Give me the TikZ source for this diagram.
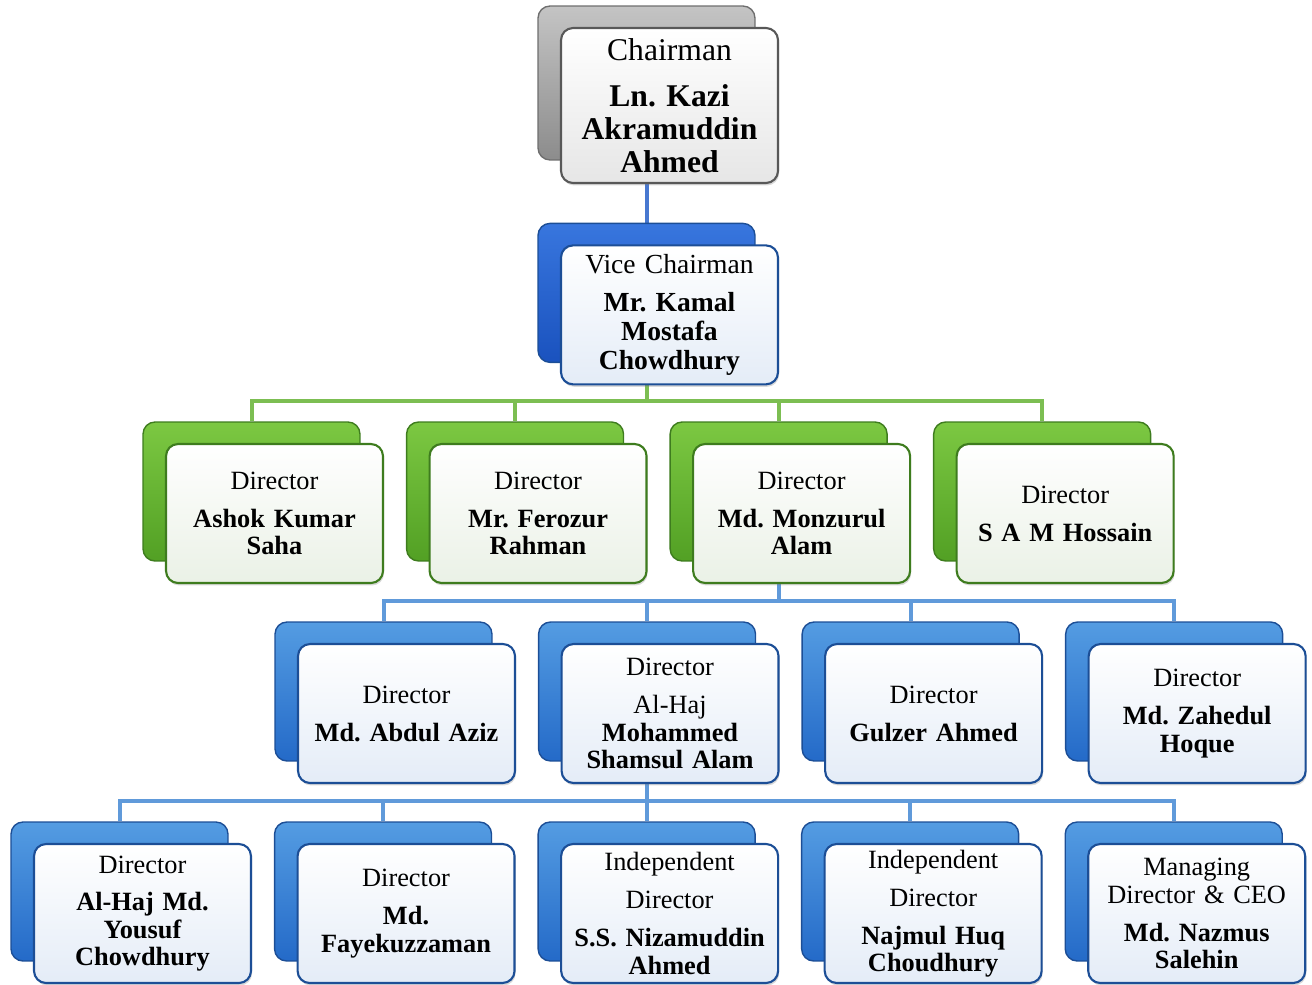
\documentclass[tikz,border=0pt]{standalone}
\usepackage{fontspec}
\setmainfont{Liberation Serif}
\usepackage{tikz}
\usetikzlibrary{positioning, backgrounds, shadows}
\frenchspacing
\definecolor{graylight}{RGB}{196,196,196}
\definecolor{graydark}{RGB}{140,140,140}
\definecolor{grayedge}{RGB}{110,110,110}
\definecolor{greenlight}{RGB}{124,200,66}
\definecolor{greendark}{RGB}{82,160,36}
\definecolor{greenedge}{RGB}{62,124,30}
\definecolor{bluelight}{RGB}{84,156,226}
\definecolor{bluedark}{RGB}{36,106,200}
\definecolor{blueedge}{RGB}{28,78,150}
\definecolor{deeplight}{RGB}{56,118,222}
\definecolor{deepdark}{RGB}{26,82,190}
\definecolor{grayfront}{RGB}{230,230,230}
\definecolor{greenfront}{RGB}{234,241,230}
\definecolor{bluefront}{RGB}{228,236,247}
\definecolor{greenline}{RGB}{124,190,82}
\definecolor{blueline}{RGB}{96,154,218}
\definecolor{chairline}{RGB}{72,120,208}

\begin{document}
\begin{tikzpicture}[
    x=0.02cm, y=-0.02cm,
    node distance=1.24cm and 0.904cm,
    back/.style={rectangle, rounded corners=0.24cm, minimum width=4.34cm, minimum height=2.78cm, line width=0.8pt},
    chairbox/.style={back, draw=grayedge, top color=graylight, bottom color=graydark, minimum height=3.08cm},
    vicebox/.style={back, draw=blueedge, top color=deeplight, bottom color=deepdark},
    greenbox/.style={back, draw=greenedge, top color=greenlight, bottom color=greendark},
    bluebox/.style={back, draw=blueedge, top color=bluelight, bottom color=bluedark},
    card/.style={rectangle, rounded corners=0.24cm, text width=4.1cm, inner xsep=0.12cm, inner ysep=1pt, minimum height=2.78cm, align=center, line width=1.2pt, font=\fontsize{15}{15.6}\selectfont, drop shadow={opacity=0.3, shadow xshift=0.6pt, shadow yshift=-1.4pt}},
    chaircard/.style={card, draw=grayedge!80!black, top color=white, bottom color=grayfront, minimum height=3.1cm, font=\fontsize{18}{18.7}\selectfont},
    vicecard/.style={card, draw=blueedge, top color=white, bottom color=bluefront, font=\fontsize{15.7}{16.4}\selectfont},
    greencard/.style={card, draw=greenedge, top color=white, bottom color=greenfront},
    bluecard/.style={card, draw=blueedge, top color=white, bottom color=bluefront},
    chairlink/.style={draw=chairline, line width=0.08cm},
    greenlink/.style={draw=greenline, line width=0.08cm},
    bluelink/.style={draw=blueline, line width=0.08cm}
]

    \useasboundingbox (0,0) rectangle (1312,984);

    \node [chairbox] (chair-bk) at (646.5,83) {};
    \node [chaircard] (chair) at ([shift={(23,22.5)}]chair-bk.center) {Chairman\\[8pt]\bfseries Ln. Kazi\\Akramuddin\\Ahmed};

    \node [vicebox, below=of chair-bk] (vice-bk) {};
    \node [vicecard] (vice) at ([shift={(23,22)}]vice-bk.center) {Vice Chairman\\[5.5pt]\bfseries Mr. Kamal\\Mostafa\\Chowdhury};

    \node [greenbox] (ashok-bk) at (251.5,491.5) {};
    \node [greenbox, right=of ashok-bk] (ferozur-bk) {};
    \node [greenbox, right=of ferozur-bk] (monzurul-bk) {};
    \node [greenbox, right=of monzurul-bk] (hossain-bk) {};
    \node [greencard] (ashok) at ([shift={(23,22)}]ashok-bk.center) {Director\\[6pt]\bfseries Ashok Kumar\\Saha};
    \node [greencard] (ferozur) at ([shift={(23,22)}]ferozur-bk.center) {Director\\[6pt]\bfseries Mr. Ferozur\\Rahman};
    \node [greencard] (monzurul) at ([shift={(23,22)}]monzurul-bk.center) {Director\\[6pt]\bfseries Md. Monzurul\\Alam};
    \node [greencard] (hossain) at ([shift={(23,22)}]hossain-bk.center) {Director\\[6pt]\bfseries S A M Hossain};

    \node [bluebox] (aziz-bk) at (383.5,691.5) {};
    \node [bluebox, right=of aziz-bk] (shamsul-bk) {};
    \node [bluebox, right=of shamsul-bk] (gulzer-bk) {};
    \node [bluebox, right=of gulzer-bk] (zahedul-bk) {};
    \node [bluecard] (aziz) at ([shift={(23,22)}]aziz-bk.center) {Director\\[6pt]\bfseries Md. Abdul Aziz};
    \node [bluecard] (shamsul) at ([shift={(23,22)}]shamsul-bk.center) {Director\\[6pt]Al-Haj\\\bfseries Mohammed\\Shamsul Alam};
    \node [bluecard] (gulzer) at ([shift={(23,22)}]gulzer-bk.center) {Director\\[6pt]\bfseries Gulzer Ahmed};
    \node [bluecard] (zahedul) at ([shift={(23,22)}]zahedul-bk.center) {Director\\[6pt]\bfseries Md. Zahedul\\Hoque};

    \node [bluebox] (yousuf-bk) at (119.5,891.5) {};
    \node [bluebox, right=of yousuf-bk] (fayek-bk) {};
    \node [bluebox, right=of fayek-bk] (nizam-bk) {};
    \node [bluebox, right=of nizam-bk] (najmul-bk) {};
    \node [bluebox, right=of najmul-bk] (ceo-bk) {};
    \node [bluecard] (yousuf) at ([shift={(23,22)}]yousuf-bk.center) {Director\\[6pt]\bfseries Al-Haj Md.\\Yousuf\\Chowdhury};
    \node [bluecard] (fayek) at ([shift={(23,22)}]fayek-bk.center) {Director\\[6pt]\bfseries Md.\\Fayekuzzaman};
    \node [bluecard] (nizam) at ([shift={(23,22)}]nizam-bk.center) {Independent\\[6pt]Director\\[6pt]\bfseries S.S. Nizamuddin\\Ahmed};
    \node [bluecard] (najmul) at ([shift={(23,22)}]najmul-bk.center) {Independent\\[6pt]Director\\[6pt]\bfseries Najmul Huq\\Choudhury};
    \node [bluecard] (ceo) at ([shift={(23,22)}]ceo-bk.center) {Managing\\Director \& CEO\\[6pt]\bfseries Md. Nazmus\\Salehin};

    \begin{scope}[on background layer]
        \draw [chairlink] (chair-bk.south) -- (vice-bk.north);
        \foreach \n in {ashok, ferozur, monzurul, hossain}
            \draw [greenlink] (vice-bk.south) |- ([yshift=0.4cm]\n-bk.north) -- (\n-bk.north);
        \foreach \n in {aziz, shamsul, gulzer, zahedul}
            \draw [bluelink] (monzurul-bk.south) |- ([yshift=0.4cm]\n-bk.north) -- (\n-bk.north);
        \foreach \n in {yousuf, fayek, nizam, najmul, ceo}
            \draw [bluelink] (shamsul-bk.south) |- ([yshift=0.4cm]\n-bk.north) -- (\n-bk.north);
    \end{scope}

\end{tikzpicture}
\end{document}
